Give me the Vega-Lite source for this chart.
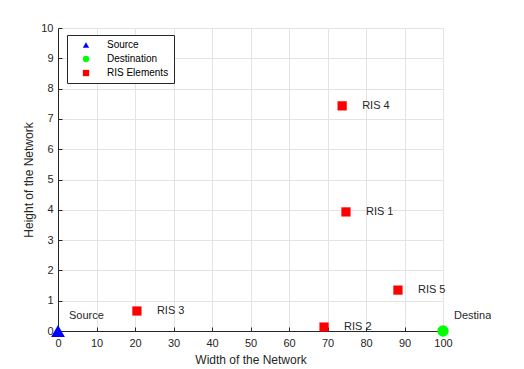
{
  "$schema": "https://vega.github.io/schema/vega-lite/v6.json",
  "width": 385,
  "height": 303,
  "autosize": "none",
  "padding": {"left": 58, "top": 28, "right": 48, "bottom": 38},
  "background": "white",
  "config": {
    "font": "Liberation Sans",
    "view": {"stroke": null},
    "axis": {
      "labelFont": "Liberation Sans",
      "titleFont": "Liberation Sans",
      "labelFontSize": 11,
      "titleFontSize": 12,
      "titleFontWeight": "normal",
      "labelColor": "#262626",
      "titleColor": "#262626",
      "domainColor": "#262626",
      "tickColor": "#262626",
      "gridColor": "#e3e3e3",
      "gridOpacity": 1,
      "labelFlush": false,
      "labelOverlap": false
    },
    "legend": {"symbolSize": 40}
  },
  "data": {
    "values": [
      {"x": 0, "y": 0, "type": "Source", "label": "Source"},
      {"x": 100, "y": 0, "type": "Destination", "label": "Destination"},
      {"x": 74.8, "y": 3.93, "type": "RIS Elements", "label": "RIS 1"},
      {"x": 69.1, "y": 0.13, "type": "RIS Elements", "label": "RIS 2"},
      {"x": 20.5, "y": 0.66, "type": "RIS Elements", "label": "RIS 3"},
      {"x": 73.8, "y": 7.43, "type": "RIS Elements", "label": "RIS 4"},
      {"x": 88.3, "y": 1.35, "type": "RIS Elements", "label": "RIS 5"}
    ]
  },
  "encoding": {
    "x": {
      "field": "x", "type": "quantitative",
      "scale": {"domain": [0, 100], "nice": false, "zero": false},
      "axis": {"values": [0,10,20,30,40,50,60,70,80,90,100], "title": "Width of the Network", "tickSize": -4, "labelPadding": 10, "titlePadding": 6}
    },
    "y": {
      "field": "y", "type": "quantitative",
      "scale": {"domain": [0, 10], "nice": false},
      "axis": {"values": [0,1,2,3,4,5,6,7,8,9,10], "title": "Height of the Network", "tickSize": -4, "labelPadding": 9, "titlePadding": 5}
    },
    "color": {
      "field": "type", "type": "nominal",
      "scale": {"domain": ["Source", "Destination", "RIS Elements"], "range": ["#0000ff", "#00ff00", "#ff0000"]},
      "legend": {
        "title": null,
        "orient": "none",
        "legendX": 9,
        "legendY": 7,
        "strokeColor": "#262626",
        "fillColor": "white",
        "padding": 5,
        "labelFontSize": 10,
        "labelColor": "#000000",
        "labelFont": "Liberation Sans",
        "symbolSize": 40,
        "symbolOffset": 9,
        "labelOffset": 16,
        "rowPadding": 4,
        "symbolStrokeWidth": 0
      }
    },
    "shape": {
      "field": "type", "type": "nominal",
      "scale": {"domain": ["Source", "Destination", "RIS Elements"], "range": ["triangle-up", "circle", "square"]}
    }
  },
  "layer": [
    {
      "transform": [{"filter": "datum.type == 'Source'"}],
      "mark": {"type": "point", "filled": true, "opacity": 1, "size": 190}
    },
    {
      "transform": [{"filter": "datum.type == 'Destination'"}],
      "mark": {"type": "point", "filled": true, "opacity": 1, "size": 130}
    },
    {
      "transform": [{"filter": "datum.type == 'RIS Elements'"}],
      "mark": {"type": "point", "filled": true, "opacity": 1, "size": 85}
    },
    {
      "transform": [{"filter": "datum.type == 'RIS Elements'"}],
      "mark": {"type": "text", "align": "left", "baseline": "middle", "dx": 20, "fontSize": 11, "color": "#262626"},
      "encoding": {"text": {"field": "label"}, "color": {"value": "#262626"}, "shape": null}
    },
    {
      "transform": [{"filter": "datum.type != 'RIS Elements'"}],
      "mark": {"type": "text", "align": "left", "baseline": "middle", "dx": 11, "dy": -15, "fontSize": 11, "color": "#262626"},
      "encoding": {"text": {"field": "label"}, "color": {"value": "#262626"}, "shape": null}
    }
  ]
}
